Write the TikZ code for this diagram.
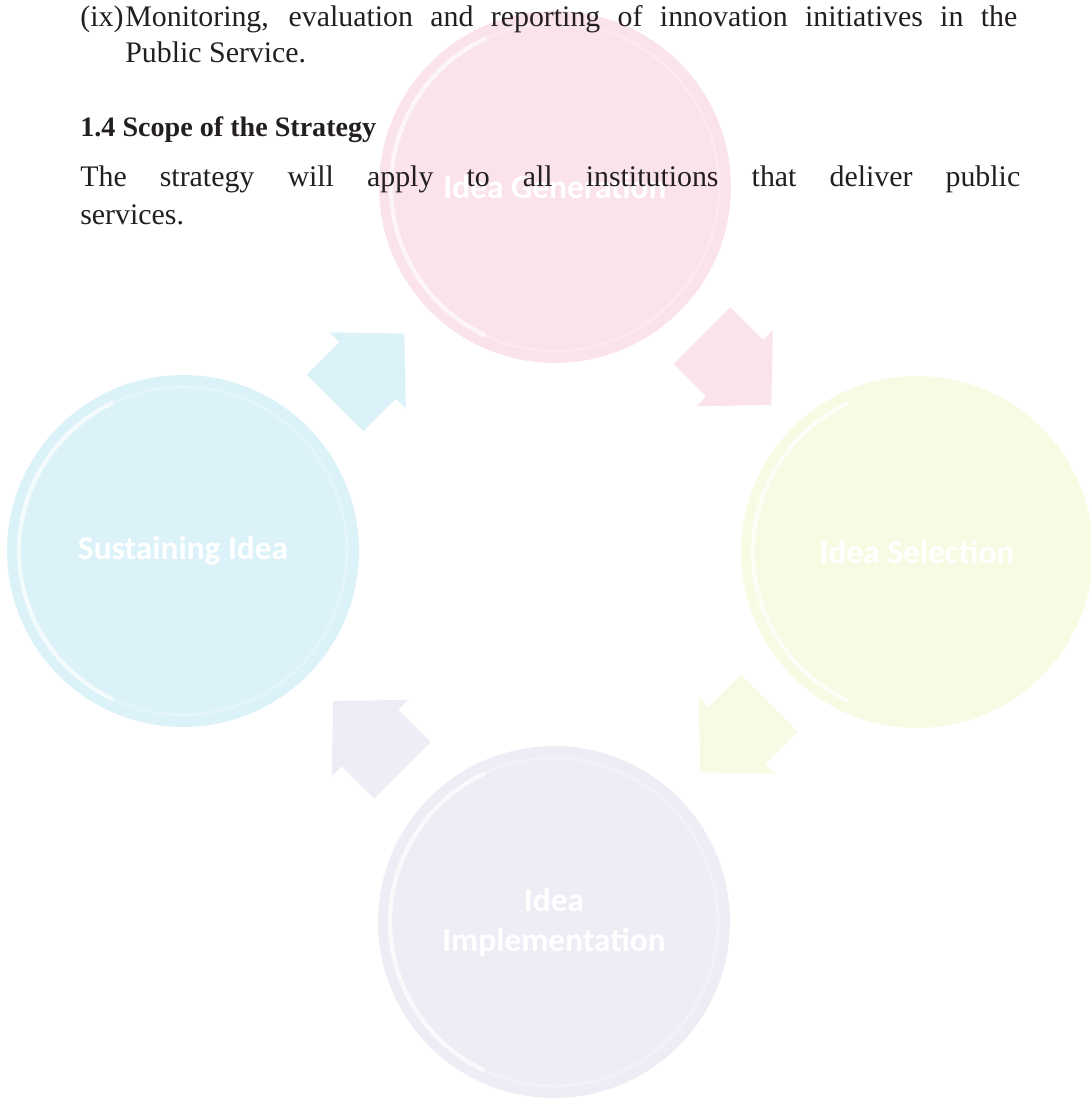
\documentclass[tikz,border=0pt]{standalone}
\usepackage{fontspec}
\setmainfont{Liberation Serif}
\newfontfamily\labelfont{Carlito}
\usetikzlibrary{calc}
\definecolor{SustainCyan}{HTML}{DCF2F9}
\definecolor{GenPink}{HTML}{FBE3EA}
\definecolor{SelYellow}{HTML}{F8FAE3}
\definecolor{ImpLavender}{HTML}{F0ECF5}
\definecolor{PageInk}{HTML}{231F20}

\begin{document}
\begin{tikzpicture}[x=0.02cm, y=-0.02cm,
    stage/.style={circle, minimum size=7.04cm, inner sep=0pt, align=center,
      text=white, font=\labelfont\bfseries\fontsize{19}{22.8}\selectfont},
    rim/.style={white, line width=1.6pt},
    txt/.style={anchor=base west, inner sep=0pt, text=PageInk,
      font=\fontsize{17}{20}\selectfont}]
  \useasboundingbox (0,0) rectangle (1090,1098);

  % Stages of the cycle
  \node[stage, fill=GenPink] (gen) at (555,187) {Idea Generation};
  \node[stage, fill=SelYellow] (sel) at (917,552) {Idea Selection};
  \node[stage, fill=ImpLavender] (imp) at (554,922) {Idea\\Implementation};
  \node[stage, fill=SustainCyan] (sus) at (183,551) {Sustaining Idea};

  % Light rim on each stage
  \foreach \n in {gen,sel,imp,sus} {
    \draw[rim, opacity=.25] (\n.center) circle (164);
    \draw[rim, opacity=.6, line width=2.5pt] (\n.center) ++(115:164) arc[start angle=115, end angle=245, radius=164];
  }

  % Arrows between the stages (block arrows at the midpoints)
  \foreach \a/\b/\ang/\col in {sus/gen/45/SustainCyan, gen/sel/-45/GenPink,
                               sel/imp/-135/SelYellow, imp/sus/135/ImpLavender}
    \fill[\col, shift={($(\a)!.5!(\b)$)}, rotate=\ang]
      (-48,-40) -- (-2,-40) -- (-2,-54) -- (50,0) -- (-2,54) -- (-2,40) -- (-48,40) -- cycle;

  % Page text over the figure
  \node[txt] (item) at (80,27) {(ix)};
  \node[txt] (itemline) at (125,27) {\makebox[17.84cm][s]{Monitoring, evaluation and reporting of innovation initiatives in the}};
  \node[txt] (itemend) at (125,63) {Public Service.};
  \node[txt, font=\fontsize{16}{19}\selectfont\bfseries] (scope) at (80,137) {1.4 Scope of the Strategy};
  \node[txt] (scopeline) at (80,187) {\makebox[18.8cm][s]{The strategy will apply to all institutions that deliver public}};
  \node[txt] (scopeend) at (80,224) {services.};
\end{tikzpicture}
\end{document}
